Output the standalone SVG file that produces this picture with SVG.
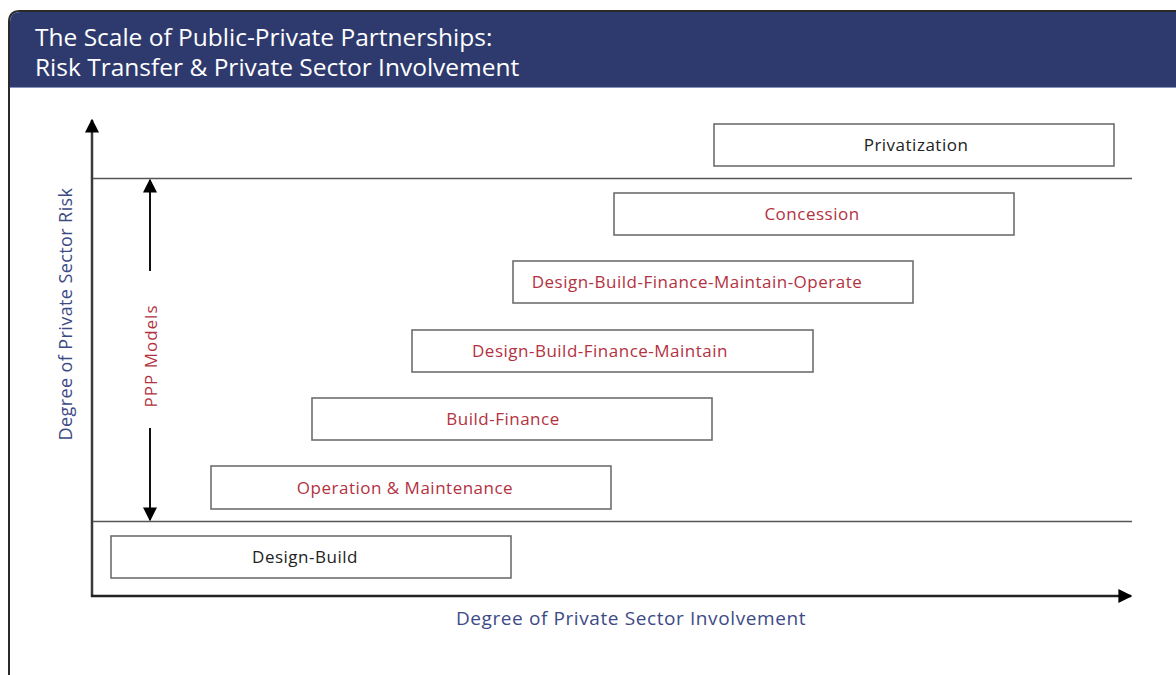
<svg xmlns="http://www.w3.org/2000/svg" width="1176" height="675" viewBox="0 0 1176 675">
<style>
.box{fill:#fff;stroke:#6e6e6e;stroke-width:1.6}
.lbl{font-family:"Open Sans","Noto Sans",sans-serif;font-size:17px;letter-spacing:0.5px;text-anchor:middle}
.red{fill:#b3323f}
.blk{fill:#222}
.axlbl{font-family:"Open Sans","Noto Sans",sans-serif;font-size:19px;letter-spacing:0.5px;fill:#3d4a86;text-anchor:middle}
.title{font-family:"Open Sans","Noto Sans",sans-serif;font-size:24.5px;fill:#fff}
</style>
<defs>
<marker id="ah2" viewBox="0 0 10 10" refX="9" refY="5" markerWidth="14" markerHeight="14" markerUnits="userSpaceOnUse" orient="auto">
<path d="M0,0 L10,5 L0,10 z" fill="#000"/>
</marker>
</defs>
<rect width="1176" height="675" fill="#fff"/>
<g id="frame">
<path d="M9,675 L9,22 Q9,11 20,11 L1176,11" fill="none" stroke="#2a2a2a" stroke-width="2"/>
<path d="M10,87 L10,22 Q10,12 20,12 L1176,12 L1176,87 Z" fill="#2e3a6e"/>
<line x1="10" y1="87.5" x2="1176" y2="87.5" stroke="#8a93c0" stroke-width="1"/>
<text class="title" x="35" y="46">The Scale of Public-Private Partnerships:</text>
<text class="title" x="35" y="76">Risk Transfer &amp; Private Sector Involvement</text>
</g>
<g id="connectors">
<line x1="92" y1="597" x2="92" y2="120" stroke="#3a3a3a" stroke-width="2.5" marker-end="url(#ah2)"/>
<line x1="91" y1="596" x2="1131" y2="596" stroke="#222" stroke-width="2.5" marker-end="url(#ah2)"/>
<line x1="93" y1="178.5" x2="1132" y2="178.5" stroke="#555" stroke-width="1.3"/>
<line x1="93" y1="521.5" x2="1132" y2="521.5" stroke="#555" stroke-width="1.3"/>
<line x1="150" y1="271" x2="150" y2="180" stroke="#111" stroke-width="2" marker-end="url(#ah2)"/>
<line x1="150" y1="428" x2="150" y2="520" stroke="#111" stroke-width="2" marker-end="url(#ah2)"/>
</g>
<g id="axis-labels">
<text class="axlbl" style="font-size:18px;letter-spacing:0.4px" transform="translate(72,314) rotate(-90)">Degree of Private Sector Risk</text>
<text class="axlbl" style="letter-spacing:0.6px" x="631" y="625">Degree of Private Sector Involvement</text>
<text class="lbl red" style="letter-spacing:1px" transform="translate(157,356) rotate(-90)">PPP Models</text>
</g>
<g id="privatization"><rect class="box" x="714" y="124" width="400" height="42"/><text class="lbl blk" x="916" y="151">Privatization</text></g>
<g id="concession"><rect class="box" x="614" y="193" width="400" height="42"/><text class="lbl red" x="812" y="220">Concession</text></g>
<g id="dbfmo"><rect class="box" x="513" y="261" width="400" height="42"/><text class="lbl red" x="697" y="288">Design-Build-Finance-Maintain-Operate</text></g>
<g id="dbfm"><rect class="box" x="412" y="330" width="401" height="42"/><text class="lbl red" x="600" y="357">Design-Build-Finance-Maintain</text></g>
<g id="bf"><rect class="box" x="312" y="398" width="400" height="42"/><text class="lbl red" x="503" y="425">Build-Finance</text></g>
<g id="om"><rect class="box" x="211" y="466" width="400" height="43"/><text class="lbl red" x="405" y="494">Operation &amp; Maintenance</text></g>
<g id="db"><rect class="box" x="111" y="536" width="400" height="42"/><text class="lbl blk" x="305" y="563">Design-Build</text></g>
</svg>
